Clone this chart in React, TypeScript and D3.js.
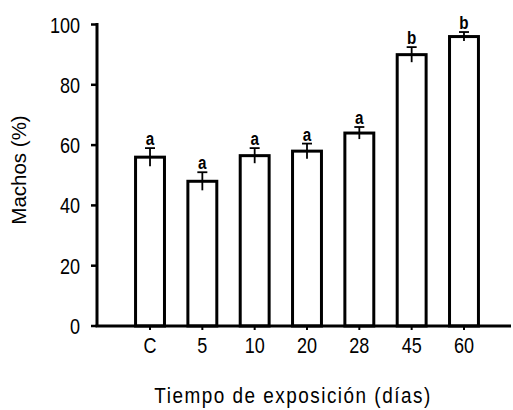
import React from "react";
import * as d3 from "d3";

const categories = ["C", "5", "10", "20", "28", "45", "60"];
const values = [56, 48, 56.5, 58, 64, 90, 96];
const errors = [3, 3, 2.5, 2.5, 2, 2.5, 1.5];
const letters = ["a", "a", "a", "a", "a", "b", "b"];
const yTicks = [0, 20, 40, 60, 80, 100];

const W = 513;
const H = 410;
const font = "'Liberation Sans', Arial, sans-serif";
const SX = 0.82;

export default function App() {
  const y = d3.scaleLinear().domain([0, 100]).range([326, 24.5]);
  const x = d3
    .scaleBand<string>()
    .domain(categories)
    .range([123.85, 490.15])
    .paddingInner(0.39)
    .paddingOuter(0.195);
  const bw = x.bandwidth();
  const axisX = 97;
  const baseY = y(0);

  return (
    <svg
      width={W}
      height={H}
      style={{ position: "absolute", left: 0, top: 0, background: "#fff" }}
    >
      {categories.map((c, i) => {
        const x0 = x(c)! + 1.5;
        const w = bw - 3;
        const top = y(values[i]);
        const cx = x(c)! + bw / 2;
        const capY = y(values[i] + errors[i]);
        return (
          <g key={c}>
            <line x1={cx} x2={cx} y1={capY} y2={y(values[i] - errors[i])} stroke="#000" strokeWidth={1.8} />
            <line x1={cx - 5} x2={cx + 5} y1={capY} y2={capY} stroke="#000" strokeWidth={1.8} />
            <rect x={x0} y={top} width={w} height={baseY - top} fill="none" stroke="#000" strokeWidth={3} />
            <text
              transform={`translate(${cx},${capY - 3}) scale(0.8,1)`}
              textAnchor="middle"
              fontFamily={font}
              fontWeight="bold"
              fontSize={19}
            >
              {letters[i]}
            </text>
            <line x1={cx} x2={cx} y1={baseY} y2={baseY + 4} stroke="#000" strokeWidth={2} />
            <text
              transform={`translate(${cx},${baseY + 27}) scale(${SX},1)`}
              textAnchor="middle"
              fontFamily={font}
              fontSize={22}
            >
              {c}
            </text>
          </g>
        );
      })}
      <line x1={axisX} x2={axisX} y1={y(100) - 1.5} y2={baseY} stroke="#000" strokeWidth={3} />
      {yTicks.map((t) => (
        <g key={t}>
          <line x1={axisX - 6} x2={axisX} y1={y(t)} y2={y(t)} stroke="#000" strokeWidth={2.5} />
          <text
            transform={`translate(${axisX - 17},${y(t) + 8}) scale(${SX},1)`}
            textAnchor="end"
            fontFamily={font}
            fontSize={22}
          >
            {t}
          </text>
        </g>
      ))}
      <line x1={axisX - 1.5} x2={511} y1={baseY} y2={baseY} stroke="#000" strokeWidth={3} />
      <text
        transform={`translate(293,403) scale(0.88,1)`}
        textAnchor="middle"
        fontFamily={font}
        fontSize={21.5}
        letterSpacing={1.7}
      >
        Tiempo de exposición (días)
      </text>
      <text
        transform={`translate(25.5,170) rotate(-90)`}
        textAnchor="middle"
        fontFamily={font}
        fontSize={20.5}
      >
        Machos (%)
      </text>
    </svg>
  );
}
